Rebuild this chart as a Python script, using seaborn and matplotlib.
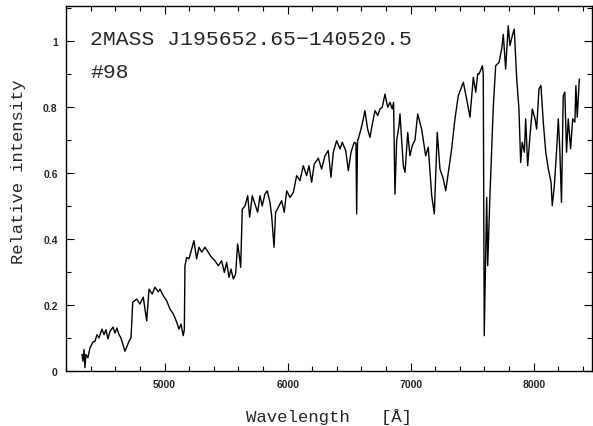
import matplotlib
matplotlib.use("Agg")
import matplotlib.pyplot as plt
from matplotlib.ticker import MultipleLocator
import seaborn as sns
import pandas as pd

wavelength = [
    4328, 4336, 4344, 4352, 4360, 4376, 4393, 4417, 4433, 4450, 4466, 4490, 4507, 4523,
    4539, 4555, 4580, 4596, 4612, 4629, 4645, 4661, 4677, 4694, 4710, 4726, 4732, 4740,
    4772, 4799, 4826, 4854, 4873, 4899, 4921, 4948, 4962, 4989, 5016, 5043, 5070, 5098,
    5116, 5133, 5151, 5160, 5165, 5179, 5198, 5220, 5238, 5260, 5279, 5301, 5328, 5354,
    5382, 5409, 5436, 5463, 5485, 5504, 5523, 5539, 5558, 5577, 5593, 5607, 5618, 5631,
    5653, 5675, 5691, 5712, 5734, 5756, 5775, 5793, 5815, 5834, 5856, 5870, 5889, 5902,
    5924, 5951, 5972, 5992, 6019, 6046, 6073, 6100, 6127, 6154, 6173, 6195, 6216, 6249,
    6276, 6303, 6330, 6352, 6371, 6398, 6425, 6444, 6472, 6493, 6515, 6541, 6555, 6561,
    6568, 6574, 6596, 6615, 6628, 6650, 6669, 6688, 6710, 6732, 6750, 6769, 6791, 6813,
    6832, 6850, 6861, 6872, 6886, 6905, 6913, 6940, 6954, 6976, 6994, 7013, 7035, 7057,
    7089, 7122, 7143, 7171, 7192, 7216, 7238, 7265, 7285, 7306, 7333, 7360, 7387, 7428,
    7455, 7482, 7509, 7529, 7545, 7556, 7583, 7590, 7598, 7618, 7626, 7645, 7672, 7691,
    7718, 7740, 7753, 7772, 7793, 7807, 7826, 7842, 7862, 7880, 7894, 7907, 7924, 7935,
    7951, 7970, 7989, 8011, 8024, 8043, 8059, 8078, 8098, 8119, 8141, 8151, 8168, 8187,
    8200, 8212, 8226, 8240, 8253, 8267, 8281, 8300, 8317, 8335, 8343, 8354, 8371,
]
intensity = [
    0.050, 0.030, 0.065, 0.010, 0.050, 0.040, 0.070, 0.088, 0.090, 0.110, 0.100, 0.127, 0.110, 0.125,
    0.097, 0.120, 0.133, 0.115, 0.130, 0.110, 0.100, 0.080, 0.060, 0.075, 0.090, 0.100, 0.140, 0.208,
    0.218, 0.203, 0.224, 0.152, 0.248, 0.233, 0.254, 0.240, 0.248, 0.228, 0.213, 0.188, 0.173, 0.148,
    0.127, 0.142, 0.107, 0.125, 0.319, 0.344, 0.340, 0.370, 0.395, 0.340, 0.375, 0.360, 0.375, 0.360,
    0.344, 0.334, 0.319, 0.334, 0.299, 0.329, 0.284, 0.309, 0.279, 0.294, 0.385, 0.349, 0.314, 0.490,
    0.500, 0.531, 0.466, 0.531, 0.506, 0.481, 0.531, 0.500, 0.536, 0.546, 0.511, 0.470, 0.375, 0.481,
    0.496, 0.516, 0.481, 0.546, 0.526, 0.541, 0.592, 0.577, 0.622, 0.592, 0.622, 0.572, 0.627, 0.645,
    0.612, 0.652, 0.668, 0.587, 0.663, 0.698, 0.673, 0.693, 0.668, 0.607, 0.663, 0.693, 0.690, 0.476,
    0.700, 0.703, 0.733, 0.764, 0.789, 0.733, 0.708, 0.748, 0.789, 0.774, 0.794, 0.799, 0.839, 0.799,
    0.814, 0.794, 0.814, 0.536, 0.698, 0.743, 0.779, 0.622, 0.602, 0.723, 0.652, 0.683, 0.700, 0.779,
    0.733, 0.652, 0.678, 0.531, 0.476, 0.723, 0.612, 0.582, 0.546, 0.602, 0.673, 0.764, 0.834, 0.875,
    0.824, 0.769, 0.890, 0.845, 0.900, 0.900, 0.925, 0.900, 0.107, 0.526, 0.319, 0.540, 0.804, 0.925,
    0.935, 0.976, 1.020, 0.915, 1.046, 0.986, 1.016, 1.036, 0.885, 0.794, 0.632, 0.693, 0.663, 0.764,
    0.622, 0.713, 0.794, 0.764, 0.733, 0.855, 0.865, 0.754, 0.663, 0.612, 0.572, 0.501, 0.562, 0.673,
    0.764, 0.673, 0.511, 0.834, 0.845, 0.663, 0.764, 0.673, 0.764, 0.754, 0.865, 0.769, 0.885,
]
x_ticks = [5000, 6000, 7000, 8000]
y_ticks = [0, 0.2, 0.4, 0.6, 0.8, 1.0]
y_tick_labels = ["0", "0.2", "0.4", "0.6", "0.8", "1"]
title_line1 = "2MASS J195652.65\u2212140520.5"
title_line2 = "#98"
x_label = "Wavelength   [\u00c5]"
y_label = "Relative intensity"

sns.set_style("ticks")
plt.rcParams["font.family"] = ["Liberation Sans", "DejaVu Sans"]

df = pd.DataFrame({"wavelength": wavelength, "intensity": intensity})

fig = plt.figure(figsize=(5.93, 4.27), dpi=100)
ax = fig.add_axes([66 / 593, 55 / 427, 526 / 593, 365 / 427])
sns.lineplot(data=df, x="wavelength", y="intensity", ax=ax, color="black",
             linewidth=1.0, estimator=None, sort=False)

ax.set_xlim(4198, 8474)
ax.set_ylim(0, 1.106)
ax.set_xticks(x_ticks)
ax.set_xticklabels([str(t) for t in x_ticks])
ax.set_yticks(y_ticks)
ax.set_yticklabels(y_tick_labels)
ax.xaxis.set_minor_locator(MultipleLocator(200))
ax.yaxis.set_minor_locator(MultipleLocator(0.1))
ax.tick_params(which="both", direction="in", top=True, right=True, color="black", width=0.8)
ax.tick_params(which="major", length=6, labelsize=7.5, pad=6)
ax.tick_params(which="minor", length=3.5)
for lab in ax.get_xticklabels() + ax.get_yticklabels():
    lab.set_fontweight("bold")
for s in ax.spines.values():
    s.set_visible(True)
    s.set_color("black")
    s.set_linewidth(1.0)

mono = ["Liberation Mono", "DejaVu Sans Mono"]
ax.set_xlabel(x_label, family=mono, fontsize=12.5)
ax.set_ylabel(y_label, family=mono, fontsize=12.3)
ax.xaxis.label.set_verticalalignment("baseline")
ax.xaxis.set_label_coords(0.5, -0.137)
ax.yaxis.set_label_coords(-0.076, 0.548)

ax.text(0.046, 0.896, title_line1, transform=ax.transAxes, family=mono,
        fontsize=15.4, va="baseline", ha="left")
ax.text(0.046, 0.806, title_line2, transform=ax.transAxes, family=mono,
        fontsize=15.4, va="baseline", ha="left")

fig.savefig("out.png", dpi=100)
